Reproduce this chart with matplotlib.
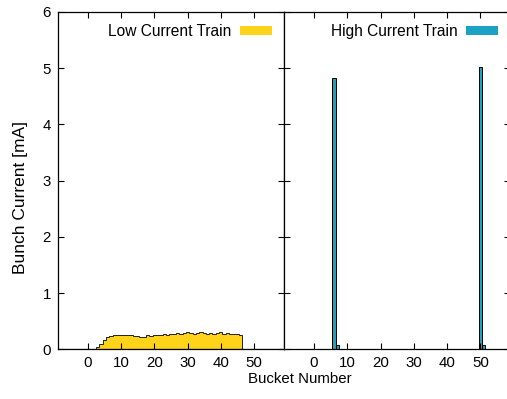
import matplotlib.pyplot as plt
from matplotlib.patches import Patch
import numpy as np

plt.rcParams['font.family'] = ['Liberation Sans', 'DejaVu Sans']
plt.rcParams['font.size'] = 10.8

# low current train: buckets 3..46
low_bucket = np.arange(3, 47)
low_current = [0.04, 0.09, 0.16, 0.22, 0.24, 0.25, 0.26, 0.25, 0.26, 0.25,
               0.25, 0.24, 0.23, 0.22, 0.21, 0.26, 0.24, 0.25, 0.26, 0.26,
               0.27, 0.26, 0.28, 0.28, 0.29, 0.28, 0.29, 0.30, 0.29, 0.28,
               0.29, 0.30, 0.29, 0.28, 0.29, 0.27, 0.29, 0.30, 0.28, 0.29,
               0.28, 0.28, 0.27, 0.26]

# high current train
high_bucket = [6, 7, 50, 51]
high_current = [4.82, 0.08, 5.02, 0.08]

yellow = '#ffd31a'
blue = '#1ba1c4'

fig = plt.figure(figsize=(5.07, 3.99), dpi=100)
ax1 = fig.add_axes([0.1138, 0.1246, 0.4465, 0.8454])
ax2 = fig.add_axes([0.5603, 0.1246, 0.4465, 0.8454])

edges = np.append(low_bucket - 0.5, low_bucket[-1] + 0.5)
ax1.stairs(low_current, edges, fill=True, color=yellow)
ax1.stairs(low_current, edges, color='#222222', linewidth=0.7)
ax1.axhline(0, color='black', lw=0.8)

ax2.bar(high_bucket, high_current, width=1, color=blue, edgecolor='black',
        linewidth=0.7)

for ax in (ax1, ax2):
    ax.set_xlim(-9, 59)
    ax.set_ylim(0, 6)
    ax.set_xticks(np.arange(0, 51, 10))
    ax.set_yticks(np.arange(0, 7, 1))
    ax.tick_params(direction='in', top=True, right=True, length=4, width=0.8,
                   pad=5, labelsize=10.8)
    for s in ax.spines.values():
        s.set_linewidth(0.9)

for ax, col, lab in ((ax1, yellow, 'Low Current Train'),
                     (ax2, blue, 'High Current Train')):
    ax.legend(handles=[Patch(facecolor=col, edgecolor='none', label=lab)],
              loc='upper right', frameon=False, markerfirst=False,
              handlelength=2.05, handleheight=0.5, borderaxespad=0.5,
              borderpad=0.3, fontsize=11.2, handletextpad=0.55)
ax2.tick_params(labelleft=False)

fig.text(0.04, 0.506, 'Bunch Current [mA]', rotation=90, ha='center',
         va='center', fontsize=12.5)
fig.text(0.592, 0.04, 'Bucket Number', ha='center', fontsize=10.8)

fig.savefig('out.png', dpi=100)
